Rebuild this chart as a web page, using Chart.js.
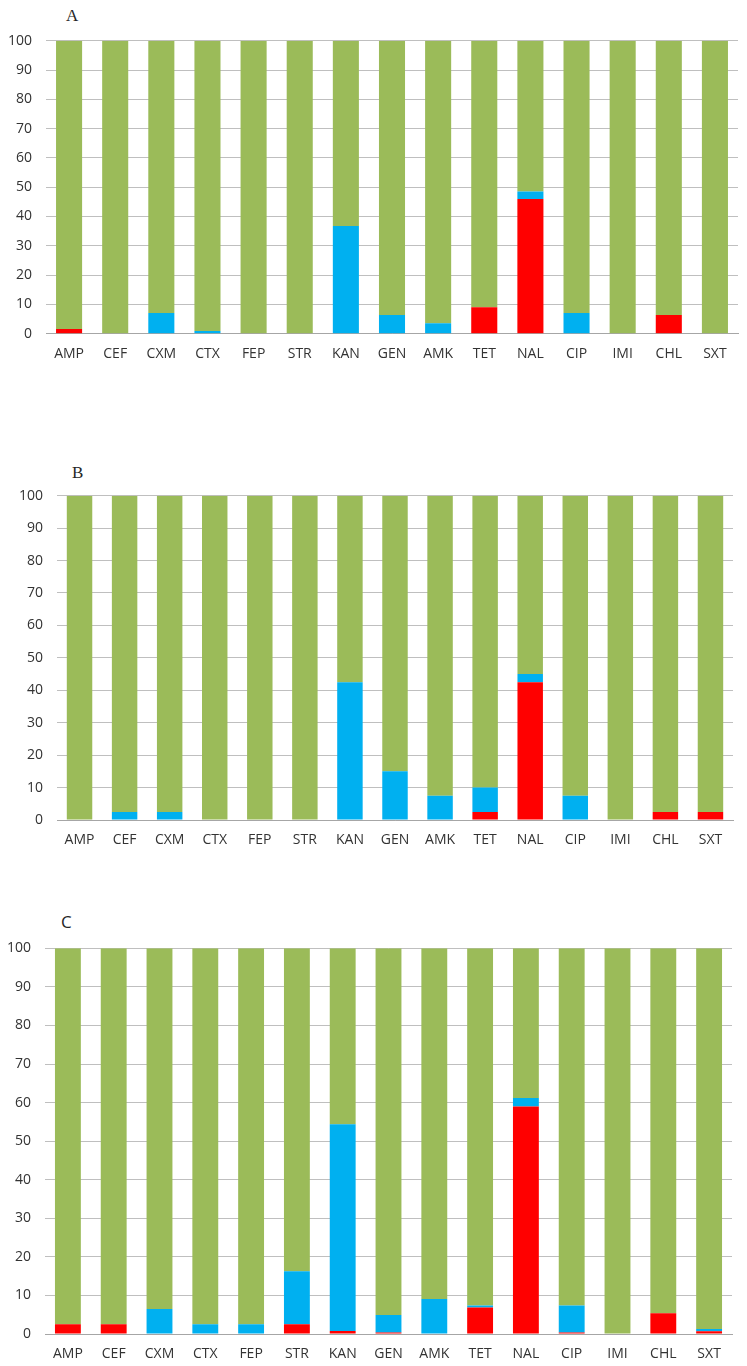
<!DOCTYPE html>
<html>
<head>
<meta charset="utf-8">
<script src="https://cdn.jsdelivr.net/npm/chart.js@4.4.1/dist/chart.umd.min.js"></script>
<style>
  html, body { margin: 0; padding: 0; background: #ffffff; }
  body { width: 747px; height: 1366px; position: relative; overflow: hidden; }
  .panel { position: absolute; left: 0; width: 747px; }
  .letter { position: absolute; font-size: 17px; line-height: 17px; color: #262626; }
  .serif { font-family: "Liberation Serif", "DejaVu Serif", serif; }
  .sans { font-family: "Open Sans", "DejaVu Sans", sans-serif; }
</style>
</head>
<body>
<div class="letter serif" style="left:66px; top:7px;">A</div>
<div class="letter serif" style="left:72px; top:464px;">B</div>
<div class="letter sans" style="left:61px; top:913px;">C</div>

<div class="panel" style="top:0px; height:370px;"><canvas id="chartA"></canvas></div>
<div class="panel" style="top:440px; height:420px;"><canvas id="chartB"></canvas></div>
<div class="panel" style="top:880px; height:486px;"><canvas id="chartC"></canvas></div>

<script>
// ---- data ----
const categories = ['AMP','CEF','CXM','CTX','FEP','STR','KAN','GEN','AMK','TET','NAL','CIP','IMI','CHL','SXT'];
const yTicks = [0,10,20,30,40,50,60,70,80,90,100];

// Panel A
const redA   = [1.6, 0, 0, 0, 0, 0, 0, 0, 0, 9.0, 46.0, 0, 0, 6.4, 0];
const blueA  = [0, 0, 7.1, 0.9, 0, 0, 36.8, 6.4, 3.6, 0, 2.5, 7.1, 0, 0, 0];
const greenA = [98.4, 100, 92.9, 99.1, 100, 100, 63.2, 93.6, 96.4, 91.0, 51.5, 92.9, 100, 93.6, 100];

// Panel B
const redB   = [0, 0, 0, 0, 0, 0, 0, 0, 0, 2.5, 42.5, 0, 0, 2.5, 2.5];
const blueB  = [0, 2.5, 2.5, 0, 0, 0, 42.5, 15, 7.5, 7.5, 2.5, 7.5, 0, 0, 0];
const greenB = [100, 97.5, 97.5, 100, 100, 100, 57.5, 85, 92.5, 90, 55, 92.5, 100, 97.5, 97.5];

// Panel C
const redC   = [2.5, 2.5, 0, 0, 0, 2.5, 0.8, 0.4, 0, 6.9, 59.0, 0.4, 0, 5.4, 0.7];
const blueC  = [0, 0, 6.5, 2.5, 2.5, 13.8, 53.6, 4.5, 9.1, 0.5, 2.2, 7.0, 0, 0, 0.6];
const greenC = [97.5, 97.5, 93.5, 97.5, 97.5, 83.7, 45.6, 95.1, 90.9, 92.6, 38.8, 92.6, 100, 94.6, 98.7];

// ---- styles ----
const RED = '#FF0000', BLUE = '#00B0F0', GREEN = '#9BBB59';
const GRID = '#BFBFBF';
const TEXT = '#333333';
const FONT = { family: '"Open Sans", "DejaVu Sans", sans-serif', size: 14 };

function makeChart(id, red, blue, green, layout) {
  const ds = (label, data, color) => ({
    label, data, backgroundColor: color, borderWidth: 0,
    barPercentage: 0.565, categoryPercentage: 1.0
  });
  return new Chart(document.getElementById(id), {
    type: 'bar',
    data: {
      labels: categories,
      datasets: [ds('red', red, RED), ds('blue', blue, BLUE), ds('green', green, GREEN)]
    },
    options: {
      responsive: true,
      maintainAspectRatio: false,
      animation: false,
      layout: { padding: { top: layout.top, right: layout.right, left: 0, bottom: 0 } },
      plugins: { legend: { display: false }, tooltip: { enabled: false }, title: { display: false } },
      scales: {
        x: {
          stacked: true,
          grid: { display: false, drawTicks: false },
          border: { display: true, color: '#A6A6A6', width: 1 },
          ticks: { color: TEXT, font: FONT, padding: layout.xPad, maxRotation: 0, autoSkip: false },
          afterFit: s => { s.height = layout.xHeight; }
        },
        y: {
          stacked: true,
          min: 0, max: 100,
          afterBuildTicks: s => { s.ticks = yTicks.map(v => ({ value: v })); },
          grid: { color: GRID, lineWidth: 1, drawTicks: false },
          border: { display: false },
          ticks: { color: TEXT, font: FONT, padding: 14 },
          afterFit: s => { s.width = layout.left; }
        }
      }
    }
  });
}

makeChart('chartA', redA, blueA, greenA, { top: 40.7, right: 9, left: 46, xHeight: 36.3, xPad: 12 });
makeChart('chartB', redB, blueB, greenB, { top: 55.7, right: 14, left: 57, xHeight: 40, xPad: 12 });
makeChart('chartC', redC, blueC, greenC, { top: 68.3, right: 15, left: 45, xHeight: 32, xPad: 12 });
</script>
</body>
</html>
